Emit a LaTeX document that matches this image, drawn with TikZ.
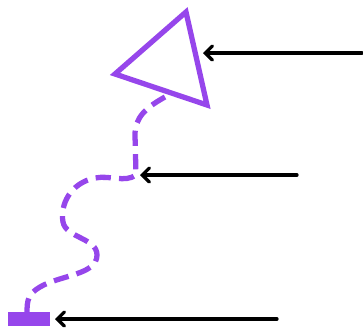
\documentclass[tikz,border=0pt]{standalone}
\usepackage{tikz}
\usetikzlibrary{arrows.meta}

\definecolor{viola}{RGB}{150,70,235}

\begin{document}
\begin{tikzpicture}[x=0.03cm, y=-0.03cm,
		freccia/.style={-{Straight Barb[length=6pt, width=12pt, line cap=round]}, line width=2.8pt, line cap=round},
		tratto/.style={viola, line width=4.5pt, dash pattern=on 13pt off 7pt}]
	
	% Cornice
	\useasboundingbox (0,0) rectangle (363,329);
	
	% Punti del disegno
	\coordinate (vA) at (186,12);
	\coordinate (vB) at (115,74);
	\coordinate (vC) at (207,105);
	\coordinate (attacco) at (165,97);
	\coordinate (curva) at (136,175);
	\coordinate (base) at (27,313);
	
	% Triangolo
	\draw[viola, line width=4.5pt, line join=miter] (vA) -- (vB) -- (vC) -- cycle;
	
	% Linea tratteggiata ondulata
	\draw[tratto] (attacco) .. controls (145,108) and (135,118) .. (135,135) -- (curva)
	.. controls (125,183) and (110,175) .. (95,178)
	.. controls (70,183) and (60,205) .. (63,222)
	.. controls (66,238) and (97,238) .. (97,255)
	.. controls (97,275) and (60,275) .. (40,287)
	.. controls (28,294) and (27,300) .. (base);
	
	% Barretta di base
	\fill[viola] (8,312) rectangle (50,326);
	
	% Frecce
	\coordinate (fA) at (362,53);
	\coordinate (fB) at (297,175);
	\coordinate (fC) at (277,319);
	\coordinate (pA) at (203,53);
	\coordinate (pB) at (140,175);
	\coordinate (pC) at (55,319);
	\draw[freccia] (fA) -- (pA);
	\draw[freccia] (fB) -- (pB);
	\draw[freccia] (fC) -- (pC);
	
\end{tikzpicture}
\end{document}
